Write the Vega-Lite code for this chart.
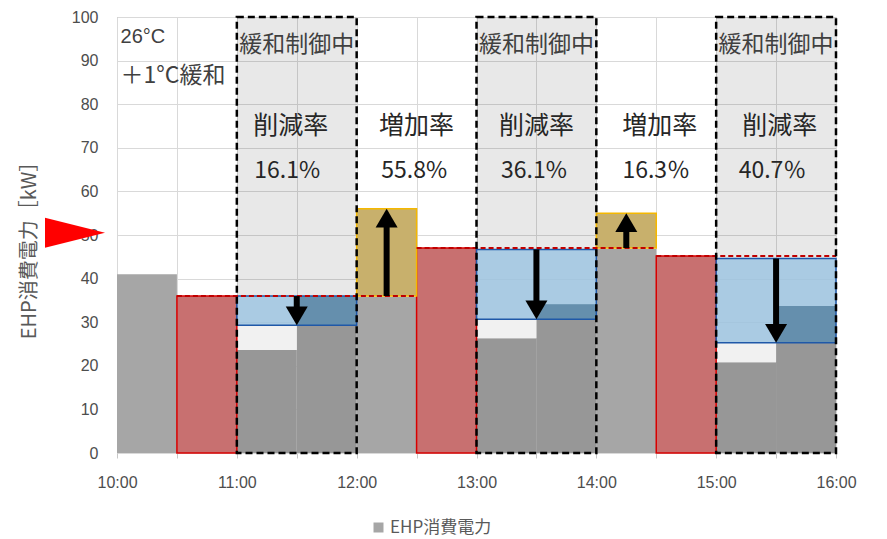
{
  "$schema": "https://vega.github.io/schema/vega-lite/v6.json",
  "autosize": {"type": "none"},
  "width": 719,
  "height": 436,
  "padding": {"left": 117, "top": 17, "right": 51, "bottom": 86},
  "background": "white",
  "config": {
    "view": {"stroke": "#b0b0b0", "strokeWidth": 1},
    "font": "Noto Sans CJK JP"
  },
  "datasets": {
    "ehp": [
      {"t": 10, "t2": 10.5, "kw": 41},
      {"t": 11, "t2": 11.5, "kw": 23.6},
      {"t": 11.5, "t2": 12, "kw": 36},
      {"t": 12, "t2": 12.5, "kw": 35.8},
      {"t": 13, "t2": 13.5, "kw": 26.3},
      {"t": 13.5, "t2": 14, "kw": 34.1},
      {"t": 14, "t2": 14.5, "kw": 46.8},
      {"t": 15, "t2": 15.5, "kw": 20.8},
      {"t": 15.5, "t2": 16, "kw": 33.7}
    ],
    "control": [
      {"s": 11, "e": 12, "lo": 0, "hi": 100},
      {"s": 13, "e": 14, "lo": 0, "hi": 100},
      {"s": 15, "e": 16, "lo": 0, "hi": 100}
    ],
    "white": [
      {"t": 11, "t2": 11.5, "lo": 23.6, "hi": 29.3},
      {"t": 13, "t2": 13.5, "lo": 26.3, "hi": 30.7},
      {"t": 15, "t2": 15.5, "lo": 20.8, "hi": 25.3}
    ],
    "red": [
      {"t": 10.5, "t2": 11, "kw": 36},
      {"t": 12.5, "t2": 13, "kw": 47},
      {"t": 14.5, "t2": 15, "kw": 45.2}
    ],
    "base": [
      {"s": 10.5, "e": 12.5, "kw": 36},
      {"s": 12.5, "e": 14.5, "kw": 47},
      {"s": 14.5, "e": 16, "kw": 45.2}
    ],
    "gold": [
      {"t": 12, "t2": 12.5, "lo": 36, "hi": 56},
      {"t": 14, "t2": 14.5, "lo": 47, "hi": 55}
    ],
    "blue": [
      {"s": 11, "e": 12, "lo": 29.3, "hi": 36},
      {"s": 13, "e": 14, "lo": 30.7, "hi": 46.7},
      {"s": 15, "e": 16, "lo": 25.3, "hi": 44.6}
    ],
    "dark": [
      {"s": 11.5, "e": 12, "lo": 29.3, "hi": 36},
      {"s": 13.5, "e": 14, "lo": 30.7, "hi": 34.1},
      {"s": 15.5, "e": 16, "lo": 25.3, "hi": 33.7}
    ],
    "down": [
      {"x": 11.5, "from": 36, "to": 29.3},
      {"x": 13.5, "from": 46.7, "to": 30.7},
      {"x": 15.5, "from": 44.6, "to": 25.3}
    ],
    "up": [
      {"x": 12.25, "from": 36, "to": 56},
      {"x": 14.25, "from": 47, "to": 55}
    ],
    "heads": [
      {"x": 11.5, "y": 93.6, "txt": "緩和制御中"},
      {"x": 13.5, "y": 93.6, "txt": "緩和制御中"},
      {"x": 15.5, "y": 93.6, "txt": "緩和制御中"}
    ],
    "ratename": [
      {"x": 11.45, "y": 75, "txt": "削減率"},
      {"x": 12.5, "y": 75, "txt": "増加率"},
      {"x": 13.5, "y": 75, "txt": "削減率"},
      {"x": 14.53, "y": 75, "txt": "増加率"},
      {"x": 15.53, "y": 75, "txt": "削減率"}
    ],
    "ratevalue": [
      {"x": 11.42, "y": 64.7, "txt": "16.1%"},
      {"x": 12.48, "y": 64.7, "txt": "55.8%"},
      {"x": 13.48, "y": 64.7, "txt": "36.1%"},
      {"x": 14.5, "y": 64.7, "txt": "16.3％"},
      {"x": 15.47, "y": 64.7, "txt": "40.7％"}
    ],
    "cond1": [
      {"x": 10.03, "y": 95.4, "txt": "26°C"}
    ],
    "cond2": [
      {"x": 10.03, "y": 86.5, "txt": "＋1°C緩和"}
    ],
    "pointer": [
      {"x": 10, "kw": 50.5}
    ]
  },
  "layer": [
    {
      "data": {"name": "ehp"},
      "mark": {"type": "rect"},
      "encoding": {
        "x": {
          "field": "t", "type": "quantitative",
          "scale": {"domain": [10, 16], "nice": false, "zero": false},
          "axis": {
            "title": null,
            "values": [10, 10.5, 11, 11.5, 12, 12.5, 13, 13.5, 14, 14.5, 15, 15.5, 16],
            "labelExpr": "datum.value % 1 == 0 ? datum.value + ':00' : ''",
            "labelFontSize": 16, "labelColor": "#4d4d4d", "labelFont": "Liberation Sans",
            "labelPadding": 16,
            "tickSize": 5, "tickColor": "#c8c8c8",
            "domain": false,
            "grid": true, "gridColor": "#d9d9d9",
            "labelFlush": false, "labelOverlap": false
          }
        },
        "x2": {"field": "t2"},
        "y": {
          "field": "kw", "type": "quantitative",
          "scale": {"domain": [0, 100], "nice": false},
          "axis": {
            "title": "EHP消費電力［kW］",
            "titleFontSize": 20, "titleColor": "#595959", "titleFontWeight": "normal",
            "titleFont": "Noto Sans CJK JP", "titlePadding": 32, "titleY": 228,
            "values": [0, 10, 20, 30, 40, 50, 60, 70, 80, 90, 100],
            "labelFontSize": 16, "labelColor": "#4d4d4d", "labelFont": "Liberation Sans",
            "labelPadding": 19, "ticks": false,
            "domain": false,
            "grid": true, "gridColor": "#d9d9d9"
          }
        },
        "y2": {"datum": 0},
        "color": {
          "datum": "EHP消費電力",
          "scale": {"range": ["#a6a6a6"]},
          "legend": {
            "orient": "none", "legendX": 253, "legendY": 502,
            "title": null, "symbolType": "square", "symbolSize": 100,
            "labelFontSize": 17, "labelColor": "#595959", "labelFont": "Noto Sans CJK JP",
            "labelOffset": 3, "labelLimit": 300
          }
        }
      }
    },
    {
      "data": {"name": "control"},
      "mark": {"type": "rect", "fill": "#000000", "fillOpacity": 0.09, "strokeWidth": 0},
      "encoding": {
        "x": {"field": "s", "type": "quantitative"},
        "x2": {"field": "e"},
        "y": {"field": "lo", "type": "quantitative"},
        "y2": {"field": "hi"}
      }
    },
    {
      "data": {"name": "white"},
      "mark": {"type": "rect", "fill": "#f1f1f1", "strokeWidth": 0},
      "encoding": {
        "x": {"field": "t", "type": "quantitative"},
        "x2": {"field": "t2"},
        "y": {"field": "lo", "type": "quantitative"},
        "y2": {"field": "hi"}
      }
    },
    {
      "data": {"name": "red"},
      "mark": {"type": "rect", "fill": "#c87070", "stroke": "#d80000", "strokeWidth": 1.5},
      "encoding": {
        "x": {"field": "t", "type": "quantitative"},
        "x2": {"field": "t2"},
        "y": {"field": "kw", "type": "quantitative"},
        "y2": {"datum": 0}
      }
    },
    {
      "data": {"name": "gold"},
      "mark": {"type": "rect", "fill": "#c8b06c", "stroke": "#f5b800", "strokeWidth": 1.5},
      "encoding": {
        "x": {"field": "t", "type": "quantitative"},
        "x2": {"field": "t2"},
        "y": {"field": "lo", "type": "quantitative"},
        "y2": {"field": "hi"}
      }
    },
    {
      "data": {"name": "blue"},
      "mark": {"type": "rect", "fill": "#9fc6e2", "fillOpacity": 0.85, "strokeWidth": 0},
      "encoding": {
        "x": {"field": "s", "type": "quantitative"},
        "x2": {"field": "e"},
        "y": {"field": "lo", "type": "quantitative"},
        "y2": {"field": "hi"}
      }
    },
    {
      "data": {"name": "dark"},
      "mark": {"type": "rect", "fill": "#658fad", "strokeWidth": 0},
      "encoding": {
        "x": {"field": "s", "type": "quantitative"},
        "x2": {"field": "e"},
        "y": {"field": "lo", "type": "quantitative"},
        "y2": {"field": "hi"}
      }
    },
    {
      "data": {"name": "blue"},
      "mark": {"type": "rect", "fillOpacity": 0, "fill": "#ffffff", "stroke": "#1f58a8", "strokeWidth": 1.5},
      "encoding": {
        "x": {"field": "s", "type": "quantitative"},
        "x2": {"field": "e"},
        "y": {"field": "lo", "type": "quantitative"},
        "y2": {"field": "hi"}
      }
    },
    {
      "data": {"name": "base"},
      "mark": {"type": "rule", "color": "#c00000", "strokeWidth": 2, "strokeDash": [5, 3]},
      "encoding": {
        "x": {"field": "s", "type": "quantitative"},
        "x2": {"field": "e"},
        "y": {"field": "kw", "type": "quantitative"}
      }
    },
    {
      "data": {"name": "down"},
      "mark": {"type": "rule", "color": "#000000", "strokeWidth": 6, "y2Offset": -10},
      "encoding": {
        "x": {"field": "x", "type": "quantitative"},
        "y": {"field": "from", "type": "quantitative"},
        "y2": {"field": "to"}
      }
    },
    {
      "data": {"name": "down"},
      "mark": {"type": "point", "shape": "M-1,-1.7L1,-1.7L0,0Z", "size": 484, "filled": true, "fill": "#000000", "strokeWidth": 0, "opacity": 1},
      "encoding": {
        "x": {"field": "x", "type": "quantitative"},
        "y": {"field": "to", "type": "quantitative"}
      }
    },
    {
      "data": {"name": "up"},
      "mark": {"type": "rule", "color": "#000000", "strokeWidth": 6, "y2Offset": 10},
      "encoding": {
        "x": {"field": "x", "type": "quantitative"},
        "y": {"field": "from", "type": "quantitative"},
        "y2": {"field": "to"}
      }
    },
    {
      "data": {"name": "up"},
      "mark": {"type": "point", "shape": "M-1,1.7L1,1.7L0,0Z", "size": 484, "filled": true, "fill": "#000000", "strokeWidth": 0, "opacity": 1},
      "encoding": {
        "x": {"field": "x", "type": "quantitative"},
        "y": {"field": "to", "type": "quantitative"}
      }
    },
    {
      "data": {"name": "control"},
      "mark": {"type": "rect", "fillOpacity": 0, "fill": "#ffffff", "stroke": "#000000", "strokeWidth": 2.5, "strokeDash": [7, 4]},
      "encoding": {
        "x": {"field": "s", "type": "quantitative"},
        "x2": {"field": "e"},
        "y": {"field": "lo", "type": "quantitative"},
        "y2": {"field": "hi"}
      }
    },
    {
      "data": {"name": "heads"},
      "mark": {"type": "text", "fontSize": 23, "color": "#404040", "baseline": "middle", "align": "center", "font": "Noto Sans CJK JP"},
      "encoding": {
        "x": {"field": "x", "type": "quantitative"},
        "y": {"field": "y", "type": "quantitative"},
        "text": {"field": "txt"}
      }
    },
    {
      "data": {"name": "ratename"},
      "mark": {"type": "text", "fontSize": 25, "color": "#262626", "baseline": "middle", "align": "center", "font": "Noto Sans CJK JP"},
      "encoding": {
        "x": {"field": "x", "type": "quantitative"},
        "y": {"field": "y", "type": "quantitative"},
        "text": {"field": "txt"}
      }
    },
    {
      "data": {"name": "ratevalue"},
      "mark": {"type": "text", "fontSize": 23, "color": "#262626", "baseline": "middle", "align": "center", "font": "Noto Sans CJK JP"},
      "encoding": {
        "x": {"field": "x", "type": "quantitative"},
        "y": {"field": "y", "type": "quantitative"},
        "text": {"field": "txt"}
      }
    },
    {
      "data": {"name": "cond1"},
      "mark": {"type": "text", "fontSize": 20, "color": "#404040", "baseline": "middle", "align": "left", "font": "Liberation Sans, Noto Sans CJK JP"},
      "encoding": {
        "x": {"field": "x", "type": "quantitative"},
        "y": {"field": "y", "type": "quantitative"},
        "text": {"field": "txt"}
      }
    },
    {
      "data": {"name": "cond2"},
      "mark": {"type": "text", "fontSize": 23, "color": "#404040", "baseline": "middle", "align": "left", "font": "Noto Sans CJK JP"},
      "encoding": {
        "x": {"field": "x", "type": "quantitative"},
        "y": {"field": "y", "type": "quantitative"},
        "text": {"field": "txt"}
      }
    },
    {
      "data": {"name": "pointer"},
      "mark": {"type": "point", "shape": "M-4,-1L0,0L-4,1Z", "size": 900, "filled": true, "fill": "#ff0000", "strokeWidth": 0, "opacity": 1, "xOffset": -12, "clip": false},
      "encoding": {
        "x": {"field": "x", "type": "quantitative"},
        "y": {"field": "kw", "type": "quantitative"}
      }
    }
  ]
}
